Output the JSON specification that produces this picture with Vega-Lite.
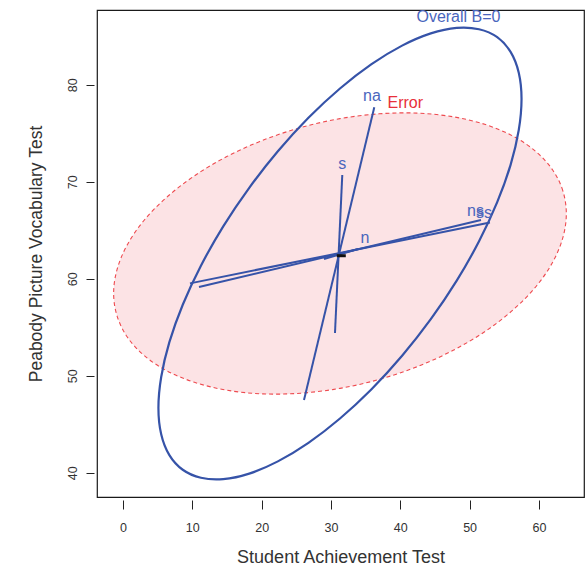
{
  "$schema": "https://vega.github.io/schema/vega-lite/v6.json",
  "width": 487,
  "height": 487,
  "autosize": {"type": "none"},
  "padding": {"left": 97, "top": 10, "right": 2, "bottom": 69},
  "config": {
    "font": "Liberation Sans",
    "view": {"stroke": "#1a1a1a", "strokeWidth": 1.2},
    "axis": {
      "grid": false,
      "domain": false,
      "tickColor": "#222",
      "tickWidth": 1,
      "labelFont": "Liberation Sans",
      "labelFontSize": 12.5,
      "labelColor": "#333",
      "titleFont": "Liberation Sans",
      "titleFontWeight": "normal",
      "titleColor": "#333"
    }
  },
  "datasets": {
    "err": [
      {"i":0,"x":63.95,"y":66.70},{"i":1,"x":63.45,"y":69.06},{"i":2,"x":61.98,"y":71.21},{"i":3,"x":59.58,"y":73.10},
      {"i":4,"x":56.31,"y":74.68},{"i":5,"x":52.29,"y":75.89},{"i":6,"x":47.63,"y":76.69},{"i":7,"x":42.47,"y":77.07},
      {"i":8,"x":36.97,"y":77.00},{"i":9,"x":31.30,"y":76.50},{"i":10,"x":25.63,"y":75.58},{"i":11,"x":20.13,"y":74.26},
      {"i":12,"x":14.97,"y":72.59},{"i":13,"x":10.31,"y":70.61},{"i":14,"x":6.29,"y":68.39},{"i":15,"x":3.02,"y":66.00},
      {"i":16,"x":0.62,"y":63.50},{"i":17,"x":-0.85,"y":60.97},{"i":18,"x":-1.35,"y":58.50},{"i":19,"x":-0.85,"y":56.15},
      {"i":20,"x":0.62,"y":53.99},{"i":21,"x":3.02,"y":52.10},{"i":22,"x":6.29,"y":50.52},{"i":23,"x":10.31,"y":49.32},
      {"i":24,"x":14.97,"y":48.51},{"i":25,"x":20.13,"y":48.13},{"i":26,"x":25.63,"y":48.20},{"i":27,"x":31.30,"y":48.70},
      {"i":28,"x":36.97,"y":49.62},{"i":29,"x":42.47,"y":50.94},{"i":30,"x":47.63,"y":52.62},{"i":31,"x":52.29,"y":54.59},
      {"i":32,"x":56.31,"y":56.81},{"i":33,"x":59.58,"y":59.20},{"i":34,"x":61.98,"y":61.70},{"i":35,"x":63.45,"y":64.23}
    ],
    "overall": [
      {"i":0,"x":57.49,"y":78.52},{"i":1,"x":57.09,"y":81.23},{"i":2,"x":55.91,"y":83.38},{"i":3,"x":53.98,"y":84.90},
      {"i":4,"x":51.36,"y":85.72},{"i":5,"x":48.14,"y":85.86},{"i":6,"x":44.40,"y":85.29},{"i":7,"x":40.26,"y":84.03},
      {"i":8,"x":35.85,"y":82.12},{"i":9,"x":31.30,"y":79.61},{"i":10,"x":26.75,"y":76.59},{"i":11,"x":22.34,"y":73.14},
      {"i":12,"x":18.21,"y":69.37},{"i":13,"x":14.46,"y":65.40},{"i":14,"x":11.24,"y":61.34},{"i":15,"x":8.62,"y":57.32},
      {"i":16,"x":6.69,"y":53.46},{"i":17,"x":5.51,"y":49.87},{"i":18,"x":5.11,"y":46.68},{"i":19,"x":5.51,"y":43.97},
      {"i":20,"x":6.69,"y":41.82},{"i":21,"x":8.62,"y":40.31},{"i":22,"x":11.24,"y":39.48},{"i":23,"x":14.46,"y":39.34},
      {"i":24,"x":18.21,"y":39.91},{"i":25,"x":22.34,"y":41.17},{"i":26,"x":26.75,"y":43.08},{"i":27,"x":31.30,"y":45.59},
      {"i":28,"x":35.85,"y":48.61},{"i":29,"x":40.26,"y":52.06},{"i":30,"x":44.40,"y":55.83},{"i":31,"x":48.14,"y":59.80},
      {"i":32,"x":51.36,"y":63.86},{"i":33,"x":53.98,"y":67.89},{"i":34,"x":55.91,"y":71.74},{"i":35,"x":57.09,"y":75.33}
    ],
    "segs": [
      {"g":"na","i":0,"x":26.11,"y":47.49},{"g":"na","i":1,"x":36.25,"y":77.67},
      {"g":"s","i":0,"x":30.58,"y":54.40},{"g":"s","i":1,"x":31.63,"y":70.69},
      {"g":"ss","i":0,"x":9.66,"y":59.52},{"g":"ss","i":1,"x":52.93,"y":65.79},
      {"g":"ns","i":0,"x":10.96,"y":59.14},{"g":"ns","i":1,"x":51.64,"y":66.05},
      {"g":"n","i":0,"x":28.99,"y":62.03},{"g":"n","i":1,"x":33.90,"y":63.06}
    ],
    "labels": [
      {"label":"Overall B=0","x":48.39,"y":86.46,"col":"#4a66bd"},
      {"label":"na","x":35.92,"y":78.35,"col":"#4a66bd"},
      {"label":"Error","x":40.72,"y":77.57,"col":"#e8303a"},
      {"label":"s","x":31.63,"y":71.28,"col":"#4a66bd"},
      {"label":"n","x":34.91,"y":63.65,"col":"#4a66bd"},
      {"label":"ns","x":50.84,"y":66.49,"col":"#4a66bd"},
      {"label":"ss","x":52.07,"y":66.23,"col":"#4a66bd"}
    ],
    "center": [{"x":31.49,"y":62.37}]
  },
  "encoding": {
    "x": {"field": "x", "type": "quantitative",
      "scale": {"domain": [-3.75, 66.5], "nice": false, "zero": false},
      "axis": {"title": "Student Achievement Test", "values": [0,10,20,30,40,50,60], "offset": 3, "tickSize": 9, "labelPadding": 12, "titleFontSize": 18, "titlePadding": 15}},
    "y": {"field": "y", "type": "quantitative",
      "scale": {"domain": [37.5, 87.7], "nice": false, "zero": false},
      "axis": {"title": "Peabody Picture Vocabulary Test", "values": [40,50,60,70,80], "offset": 3, "tickSize": 8, "labelAngle": -90, "labelAlign": "center", "labelBaseline": "bottom", "labelPadding": 7, "titleFontSize": 17.5, "titlePadding": 21}}
  },
  "layer": [
    {"data": {"name": "err"},
     "mark": {"type": "line", "interpolate": "cardinal-closed", "fill": "#fce3e5", "stroke": "#ee4a4f", "strokeWidth": 1.1, "strokeDash": [4, 3]},
     "encoding": {"order": {"field": "i", "type": "quantitative"}}},
    {"data": {"name": "overall"},
     "mark": {"type": "line", "interpolate": "cardinal-closed", "stroke": "#3653a8", "strokeWidth": 2.2},
     "encoding": {"order": {"field": "i", "type": "quantitative"}}},
    {"data": {"name": "segs"},
     "mark": {"type": "line", "stroke": "#3653a8", "strokeWidth": 2},
     "encoding": {"detail": {"field": "g"}, "order": {"field": "i", "type": "quantitative"}}},
    {"data": {"name": "center"},
     "mark": {"type": "tick", "orient": "horizontal", "size": 9, "thickness": 3, "color": "#111", "opacity": 1}},
    {"data": {"name": "labels"},
     "mark": {"type": "text", "font": "Liberation Sans", "fontSize": 16, "align": "center", "baseline": "alphabetic"},
     "encoding": {"text": {"field": "label"}, "color": {"field": "col", "type": "nominal", "scale": null}}}
  ]
}
